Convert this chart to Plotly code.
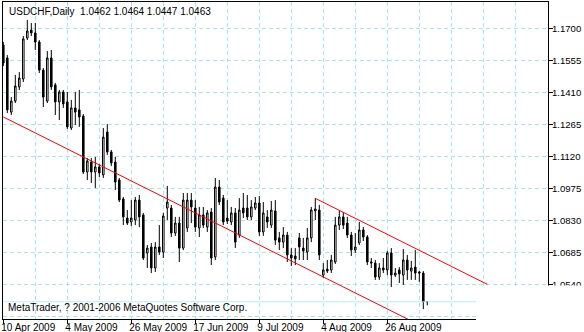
import plotly.graph_objects as go

# ---- data (USDCHF daily) ----
opens = [1.1625, 1.1566, 1.1321, 1.1371, 1.1435, 1.1471, 1.1656, 1.1692, 1.1679, 1.1638,
         1.1511, 1.1371, 1.1566, 1.1444, 1.1367, 1.1412, 1.1367, 1.1249, 1.1340, 1.1331,
         1.1303, 1.1050, 1.1095, 1.1050, 1.1073, 1.1037, 1.1231, 1.1141, 1.1095, 1.1014,
         1.0928, 1.0842, 1.0824, 1.0833, 1.0923, 1.0856, 1.0684, 1.0711, 1.0616, 1.0711,
         1.0688, 1.0887, 1.0887, 1.0774, 1.0819, 1.0706, 1.0797, 1.0923, 1.0887, 1.0797,
         1.0856, 1.0801, 1.0869, 1.0666, 1.0982, 1.0932, 1.0842, 1.0824, 1.0865, 1.0765,
         1.0887, 1.0887, 1.0847, 1.0887, 1.0910, 1.0779, 1.0847, 1.0810, 1.0874, 1.0752,
         1.0733, 1.0765, 1.0675, 1.0670, 1.0752, 1.0706, 1.0688, 1.0752, 1.0874, 1.0878,
         1.0584, 1.0611, 1.0607, 1.0643, 1.0810, 1.0847, 1.0819, 1.0765, 1.0697, 1.0729,
         1.0788, 1.0756, 1.0638, 1.0638, 1.0575, 1.0616, 1.0607, 1.0684, 1.0584, 1.0607,
         1.0584, 1.0652, 1.0602, 1.0620, 1.0598, 1.0593, 1.0462]
highs = [1.1638, 1.1579, 1.1389, 1.1489, 1.1502, 1.1665, 1.1738, 1.1724, 1.1724, 1.1647,
         1.1520, 1.1597, 1.1602, 1.1453, 1.1421, 1.1421, 1.1412, 1.1376, 1.1412, 1.1421,
         1.1312, 1.1113, 1.1113, 1.1118, 1.1086, 1.1249, 1.1267, 1.1150, 1.1118, 1.1023,
         1.0937, 1.0878, 1.0923, 1.0937, 1.0946, 1.0865, 1.0720, 1.0729, 1.0733, 1.0810,
         1.0865, 1.0987, 1.0901, 1.0847, 1.0847, 1.0955, 1.0955, 1.0955, 1.0923, 1.0892,
         1.0892, 1.0878, 1.0887, 1.1023, 1.1014, 1.0946, 1.0923, 1.0892, 1.0887, 1.0932,
         1.0955, 1.0946, 1.0923, 1.0937, 1.0941, 1.0914, 1.0878, 1.0919, 1.0923, 1.0779,
         1.0801, 1.0779, 1.0706, 1.0706, 1.0774, 1.0752, 1.0797, 1.0892, 1.0932, 1.0901,
         1.0638, 1.0652, 1.0675, 1.0847, 1.0878, 1.0869, 1.0847, 1.0779, 1.0774, 1.0824,
         1.0801, 1.0765, 1.0661, 1.0652, 1.0638, 1.0661, 1.0693, 1.0706, 1.0616, 1.0620,
         1.0702, 1.0675, 1.0648, 1.0697, 1.0602, 1.0602, 1.0464]
lows = [1.1529, 1.1317, 1.1308, 1.1362, 1.1421, 1.1457, 1.1647, 1.1665, 1.1602, 1.1498,
        1.1344, 1.1362, 1.1421, 1.1308, 1.1285, 1.1340, 1.1245, 1.1240, 1.1263, 1.1254,
        1.1041, 1.1014, 1.1000, 1.0978, 1.1027, 1.1023, 1.1127, 1.1077, 1.0969, 1.0914,
        1.0810, 1.0810, 1.0806, 1.0810, 1.0801, 1.0652, 1.0616, 1.0593, 1.0598, 1.0675,
        1.0661, 1.0833, 1.0756, 1.0761, 1.0643, 1.0697, 1.0779, 1.0819, 1.0779, 1.0756,
        1.0797, 1.0779, 1.0629, 1.0652, 1.0901, 1.0810, 1.0815, 1.0810, 1.0706, 1.0752,
        1.0842, 1.0833, 1.0833, 1.0878, 1.0761, 1.0761, 1.0797, 1.0797, 1.0720, 1.0697,
        1.0706, 1.0643, 1.0625, 1.0629, 1.0652, 1.0652, 1.0652, 1.0733, 1.0833, 1.0652,
        1.0571, 1.0593, 1.0593, 1.0634, 1.0788, 1.0792, 1.0752, 1.0670, 1.0684, 1.0720,
        1.0738, 1.0629, 1.0616, 1.0562, 1.0562, 1.0593, 1.0584, 1.0530, 1.0575, 1.0548,
        1.0539, 1.0562, 1.0562, 1.0562, 1.0553, 1.0430, 1.0447]
closes = [1.1543, 1.1331, 1.1371, 1.1439, 1.1475, 1.1652, 1.1688, 1.1679, 1.1638, 1.1511,
          1.1389, 1.1566, 1.1435, 1.1367, 1.1412, 1.1358, 1.1254, 1.1340, 1.1321, 1.1299,
          1.1050, 1.1100, 1.1050, 1.1073, 1.1046, 1.1208, 1.1141, 1.1091, 1.1005, 1.0923,
          1.0847, 1.0819, 1.0842, 1.0923, 1.0847, 1.0661, 1.0706, 1.0616, 1.0711, 1.0688,
          1.0851, 1.0914, 1.0774, 1.0819, 1.0706, 1.0923, 1.0923, 1.0892, 1.0801, 1.0856,
          1.0810, 1.0865, 1.0661, 1.0982, 1.0914, 1.0824, 1.0828, 1.0865, 1.0733, 1.0878,
          1.0865, 1.0847, 1.0892, 1.0910, 1.0779, 1.0865, 1.0824, 1.0878, 1.0742, 1.0733,
          1.0765, 1.0675, 1.0661, 1.0657, 1.0711, 1.0693, 1.0752, 1.0878, 1.0883, 1.0675,
          1.0607, 1.0602, 1.0652, 1.0810, 1.0847, 1.0810, 1.0765, 1.0697, 1.0711, 1.0788,
          1.0756, 1.0643, 1.0643, 1.0575, 1.0616, 1.0607, 1.0684, 1.0584, 1.0593, 1.0589,
          1.0652, 1.0607, 1.0616, 1.0593, 1.0593, 1.0462, 1.0463]
bars = list(range(len(opens)))

date_ticks = [0, 16, 32, 48, 64, 80, 96]
date_labels = ["10 Apr 2009", "4 May 2009", "26 May 2009", "17 Jun 2009",
               "9 Jul 2009", "4 Aug 2009", "26 Aug 2009"]
grid_bars = list(range(0, 137, 8))
price_ticks = [1.0395, 1.0540, 1.0685, 1.0830, 1.0975, 1.1120, 1.1265, 1.1410, 1.1555, 1.1700]
price_labels = ["%.4f" % v for v in price_ticks]

channel_lower_x = [0, 110]
channel_lower_y = [1.1299, 1.0304]
channel_upper_x = [78, 121]
channel_upper_y = [1.0931, 1.0542]

x_range = [-0.075, 136.175]
y_range = [1.03852, 1.18190]

title_text = "USDCHF,Daily  %.4f %.4f %.4f %.4f" % (opens[-1], highs[-1], lows[-1], closes[-1])
copyright_text = "MetaTrader, ? 2001-2006 MetaQuotes Software Corp."

GRID = "#a8e6e6"
FONT = "Liberation Sans"

fig = go.Figure()

# bid line at last close
fig.add_trace(go.Scatter(x=x_range, y=[closes[-1], closes[-1]], mode="lines",
                         line=dict(color="#b4f0f0", width=1), hoverinfo="skip", showlegend=False))

fig.add_trace(go.Candlestick(
    x=bars, open=opens, high=highs, low=lows, close=closes,
    increasing=dict(line=dict(color="black", width=1), fillcolor="white"),
    decreasing=dict(line=dict(color="black", width=1), fillcolor="black"),
    whiskerwidth=0, showlegend=False))

for cx, cy in [(channel_lower_x, channel_lower_y), (channel_upper_x, channel_upper_y)]:
    fig.add_trace(go.Scatter(x=cx, y=cy, mode="lines", line=dict(color="#ff0000", width=1),
                             hoverinfo="skip", showlegend=False))

fig.update_layout(
    width=584, height=332, autosize=False,
    margin=dict(l=3, r=36, t=2, b=13, pad=0),
    paper_bgcolor="white", plot_bgcolor="white",
    boxgap=0.45,
    font=dict(family=FONT, size=10, color="black"),
    showlegend=False,
    xaxis=dict(range=x_range, rangeslider=dict(visible=False), showline=True, mirror=True,
               linecolor="black", linewidth=1, zeroline=False, automargin=False,
               tickmode="array", tickvals=date_ticks, ticktext=date_labels, tickangle=0,
               ticks="outside", ticklen=4, tickcolor="black", tickwidth=1,
               ticklabelposition="outside right", ticklabelstandoff=-1, ticklabelshift=-3,
               tickfont=dict(family=FONT, size=10, color="black"),
               showgrid=True, gridcolor=GRID, griddash="4px,3px", gridwidth=1,
               minor=dict(tickmode="array", tickvals=grid_bars, showgrid=True,
                          gridcolor=GRID, griddash="4px,3px", gridwidth=1, ticks="")),
    yaxis=dict(range=y_range, side="right", showline=True, mirror=True,
               linecolor="black", linewidth=1, zeroline=False, automargin=False,
               tickmode="array", tickvals=price_ticks, ticktext=price_labels,
               ticks="outside", ticklen=4, tickcolor="black", tickwidth=1,
               ticklabelstandoff=-3,
               tickfont=dict(family=FONT, size=9.6, color="black"),
               showgrid=True, gridcolor=GRID, griddash="4px,3px", gridwidth=1),
    shapes=[dict(type="rect", xref="paper", yref="paper", x0=(476 - 3) / 545, x1=1.1,
                 y0=-0.1, y1=(319 - 285.5) / 317, fillcolor="white", line=dict(width=0),
                 layer="above")],
    annotations=[
        dict(text=title_text, xref="paper", yref="paper", x=4 / 545, y=(319 - 11) / 317,
             xanchor="left", yanchor="middle", showarrow=False,
             font=dict(family=FONT, size=10, color="black")),
        dict(text=copyright_text, xref="paper", yref="paper", x=3 / 545, y=(319 - 307) / 317,
             xanchor="left", yanchor="middle", showarrow=False,
             font=dict(family=FONT, size=10, color="black")),
    ],
)

fig.write_html("out.html")
